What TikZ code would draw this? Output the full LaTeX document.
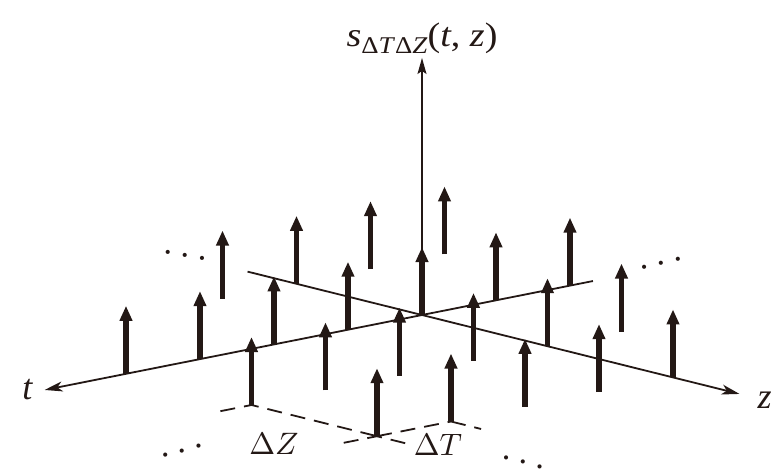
\documentclass[tikz,border=0pt]{standalone}
\usepackage{fontspec}
\usepackage{tikz}
\usetikzlibrary{arrows.meta, positioning}
\newfontfamily\timesfont{Liberation Serif}
\definecolor{ink}{HTML}{231815}

\begin{document}
\begin{tikzpicture}[
  x={(-74pt,-14.7pt)}, y={(125.5pt,-31.2pt)}, z={(0pt,68pt)},
  axis/.style={line width=1.8pt, color=ink, -{Stealth[length=18pt, width=10pt, inset=5pt]}},
  vaxis/.style={line width=1.4pt, color=ink, -{Stealth[length=16pt, width=9pt, inset=3pt]}},
  impulse/.style={line width=5.5pt, color=ink, -{Triangle[length=15pt, width=12pt]}},
  spacing/.style={line width=1.8pt, color=ink, dash pattern=on 15pt off 9pt},
  axislabel/.style={font=\timesfont\fontsize{36}{40}\selectfont\itshape, text=ink, inner sep=0pt},
  funclabel/.style={font=\timesfont\fontsize{34}{38}\selectfont, text=ink, inner sep=0pt},
  steplabel/.style={text=ink, inner sep=0pt},
  ellip/.style={text=ink, inner sep=0pt}
]
  \useasboundingbox (-422pt,315pt) rectangle (362pt,-157pt);

  % Axes
  \coordinate (O) at (0,0,0);
  \coordinate (tEnd) at (-2.31,0,0);
  \coordinate (tTip) at (5.1,0,0);
  \coordinate (zEnd) at (0,-1.39,0);
  \coordinate (zTip) at (0,2.53,0);
  \coordinate (sTip) at (0,0,3.78);
  \draw[axis] (tEnd) -- (tTip);
  \draw[axis] (zEnd) -- (zTip);
  \draw[vaxis] (O) -- (sTip);

  % Sampling grid
  \foreach \j/\ilist in {-1/{1,0,-1,-2}, 0/{4,3,2,1,0,-1,-2}, 1/{4,3,2,1,0,-1}, 2/{4,3,2,1,0}} {
    \foreach \i in \ilist {
      \coordinate (p\i\j) at (\i,\j,0);
      \coordinate (h\i\j) at (\i,\j,1);
    }
  }

  % Spacing marks
  \coordinate (aL) at (4.42,1,0);
  \coordinate (bL) at (4.45,2,0);
  \coordinate (bR) at (4,2.24,0);
  \coordinate (cR) at (3,2.24,0);
  \draw[spacing] (aL) -- (p41) -- (p42);
  \draw[spacing] (p42) -- (p32);
  \draw[spacing] (bL) -- (p42) -- (bR);
  \draw[spacing] (p32) -- (cR);

  % Impulses
  \foreach \j/\ilist in {-1/{1,0,-1,-2}, 0/{4,3,2,1,0,-1,-2}, 1/{4,3,2,1,0,-1}, 2/{4,3,2,1,0}} {
    \foreach \i in \ilist {
      \draw[impulse] (p\i\j) -- (h\i\j);
    }
  }

  % Labels
  \node[axislabel, left=12pt of tTip] (tlab) {t};
  \node[axislabel, right=18pt of zTip, yshift=-6pt] (zlab) {z};
  \node[funclabel, above=4pt of sTip] (slab)
    {\scalebox{1.12}[1]{\textit{s}\raisebox{-0.22em}{\fontsize{24}{26}\selectfont Δ\textit{T}Δ\textit{Z}}(\textit{t}, \textit{z})}};
  \node[steplabel] (dZ) at (-148pt,-129pt) {\scalebox{3.1}{$\Delta Z$}};
  \node[steplabel] (dT) at (16pt,-130pt) {\scalebox{3.1}{$\Delta T$}};

  % Continuation dots
  \node[ellip, rotate=-10] (dotsUL) at (-237pt,60pt) {\scalebox{3.9}{$\ldots$}};
  \node[ellip, rotate=13] (dotsUR) at (239pt,52pt) {\scalebox{3.9}{$\ldots$}};
  \node[ellip, rotate=15] (dotsBL) at (-240pt,-136pt) {\scalebox{3.9}{$\ldots$}};
  \node[ellip, rotate=-15] (dotsBR) at (101pt,-147pt) {\scalebox{3.9}{$\ldots$}};
\end{tikzpicture}
\end{document}
